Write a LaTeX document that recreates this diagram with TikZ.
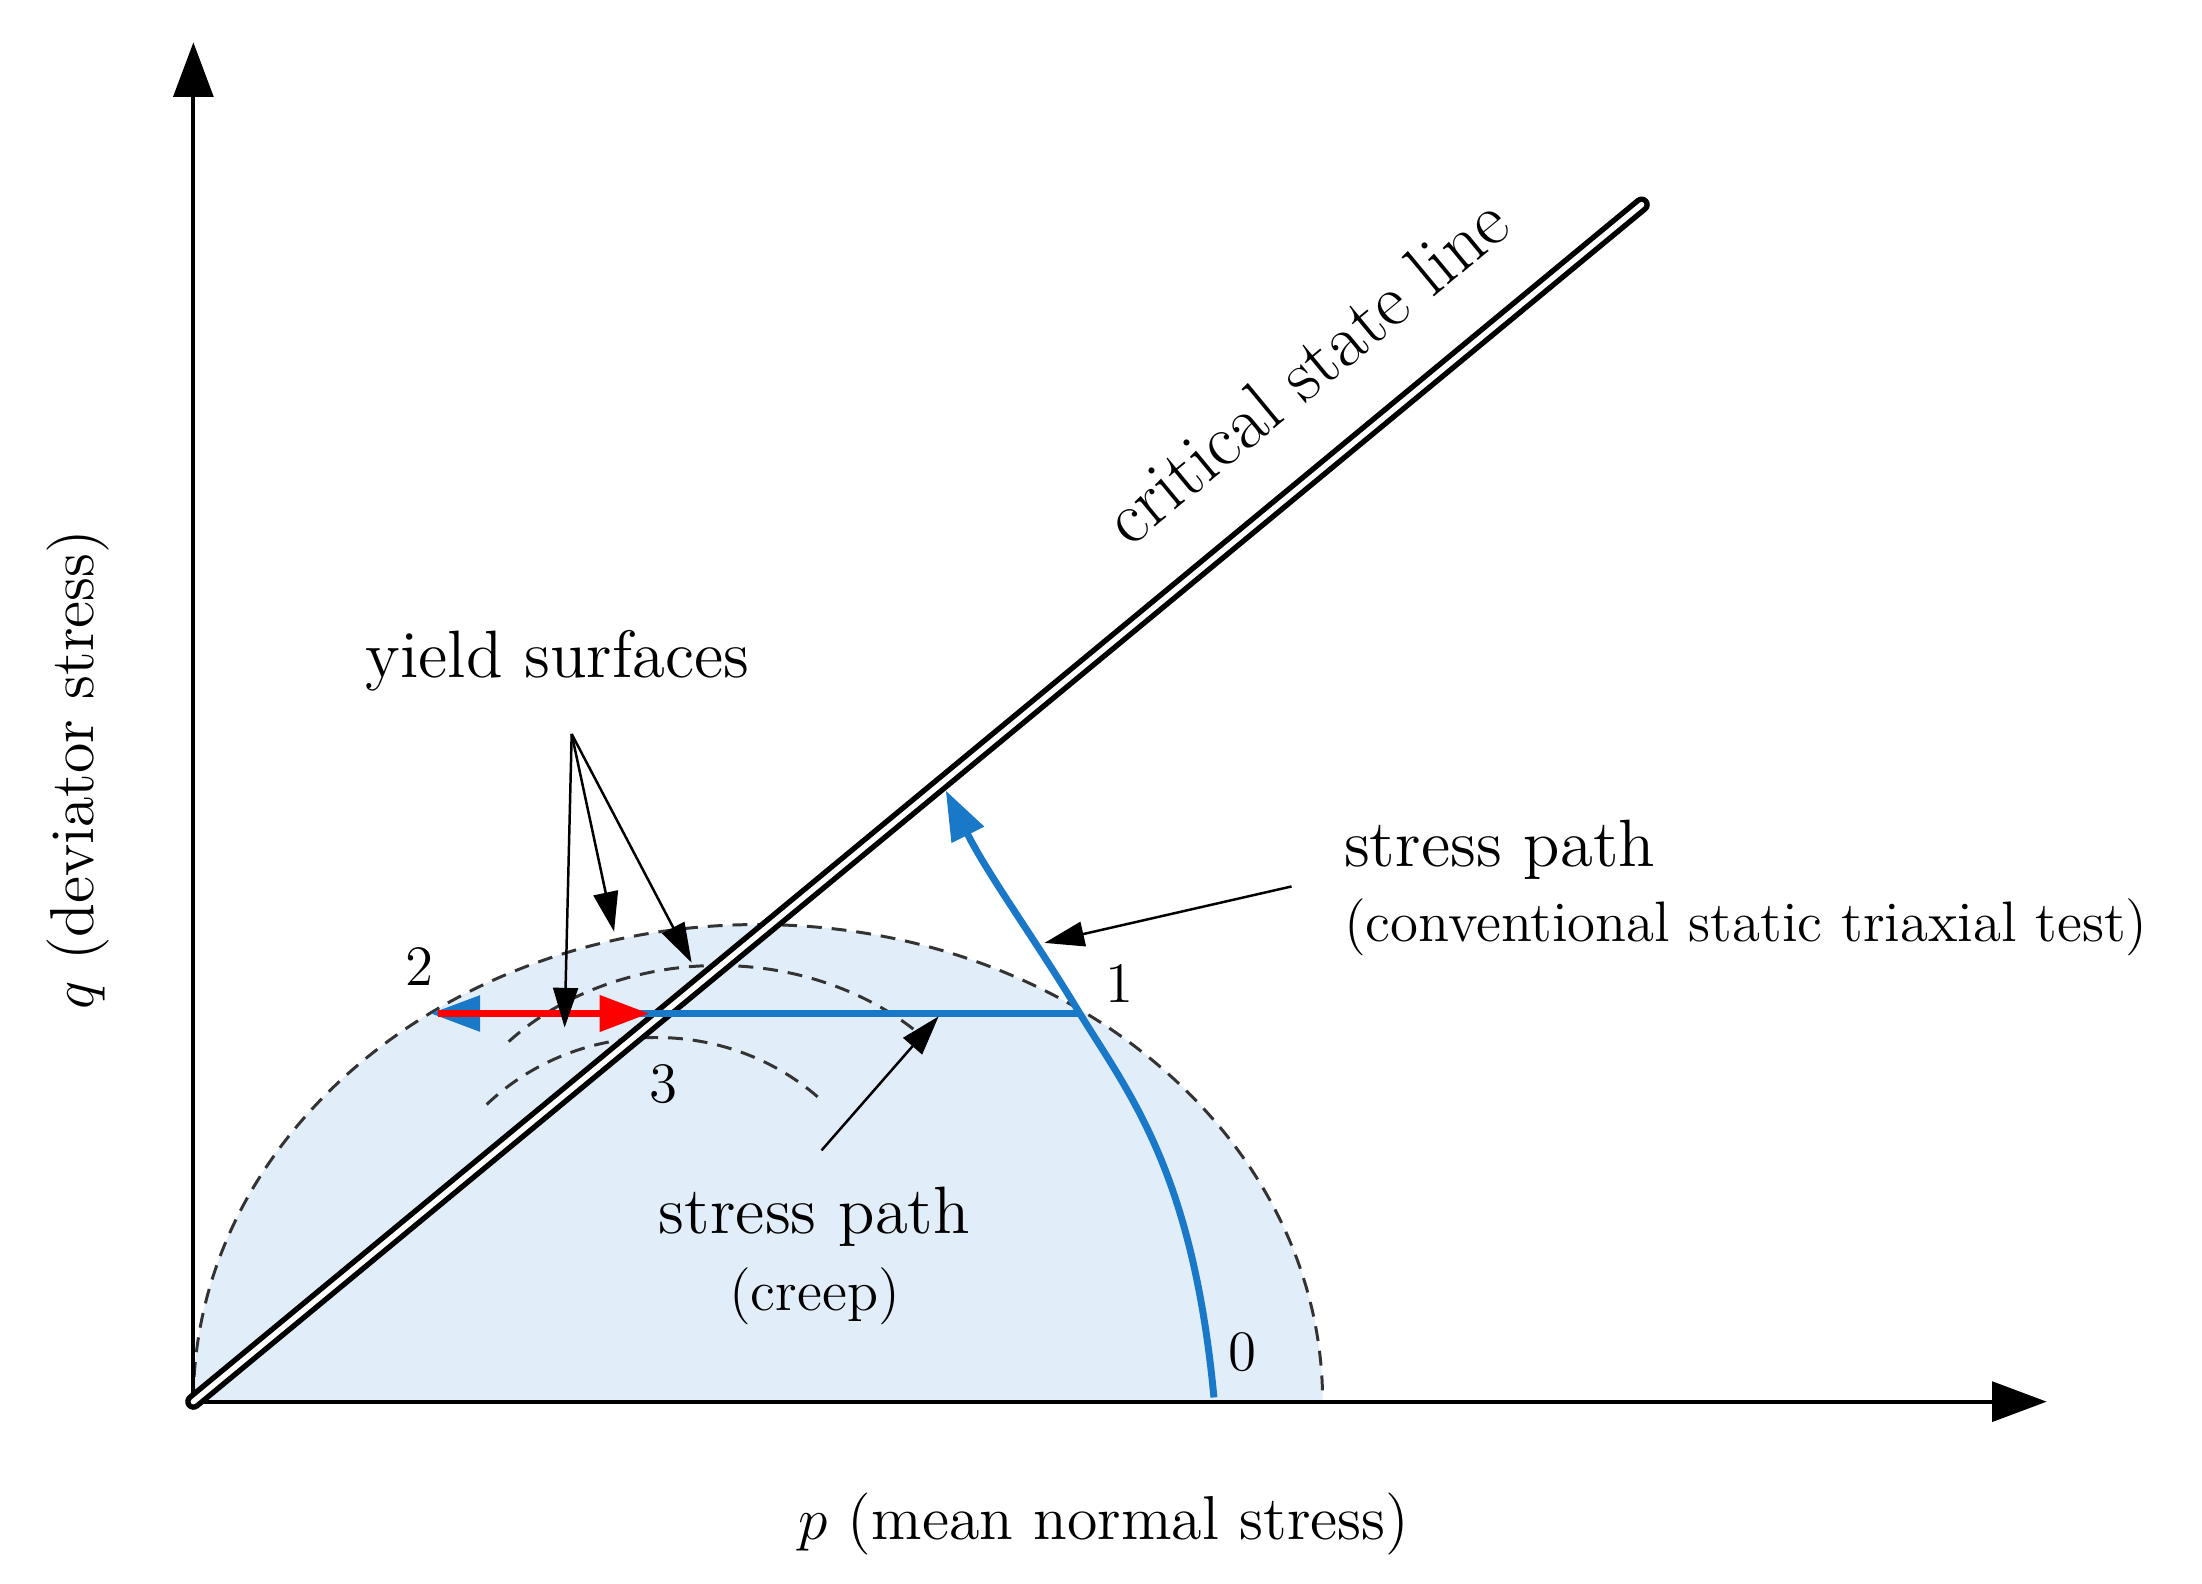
\documentclass[tikz,border=0pt]{standalone}
\usetikzlibrary{arrows.meta}
\definecolor{fillb}{HTML}{E1EDF8}
\definecolor{pathb}{HTML}{1A78C8}
\begin{document}
\begin{tikzpicture}[x=0.01cm,y=-0.01cm,
  lbl/.style={inner sep=1pt,font=\fontsize{13.5}{16}\selectfont},
  sml/.style={inner sep=1pt,font=\fontsize{11.5}{14}\selectfont},
  tri/.style={-{Triangle[length=10pt,width=7pt]}},
  thin arrow/.style={line width=0.5pt,-{Triangle[length=8pt,width=5pt]}},
  dsh/.style={dashed,dash pattern=on 3pt off 2pt,line width=0.6pt,black!80}]
\useasboundingbox (0,0) rectangle (1560,1121.5);
\coordinate (O) at (137,993);
\coordinate (Ytop) at (137,30);
\coordinate (Xend) at (1450,993);
\coordinate (Cend) at (1163,145);
% yield surface fill
\fill[fillb] (137,993) arc[start angle=-180,end angle=0,x radius=400,y radius=338] -- cycle;
\draw[dsh] (137,993) arc[start angle=-180,end angle=0,x radius=400,y radius=338];
\draw[dsh] (509,847) ++(-138:200 and 163) arc[start angle=-138,end angle=-44,x radius=200,y radius=163];
\draw[dsh] (465,897) ++(-135:170 and 162) arc[start angle=-135,end angle=-46,x radius=170,y radius=162];
% axes
\draw[line width=0.8pt,-{Triangle[length=11pt,width=8pt]}] (O) -- (Xend);
\draw[line width=0.8pt,-{Triangle[length=11pt,width=8pt]}] (O) -- (Ytop);
% CSL
\draw[line width=1.1pt,double=white,double distance=1.1pt,line cap=round] (O) -- (Cend);
\node[lbl,rotate=39.6,font=\fontsize{15}{18}\selectfont] (csl) at (925,262) {critical state line};
% stress paths
\coordinate (P0) at (860,990);
\coordinate (P1) at (765,718);
\coordinate (P1a) at (670,560);
\coordinate (P3) at (460,718);
\coordinate (P2) at (305,718);
\draw[pathb,line width=1.4pt] (P0) .. controls (845,830) and (800,775) .. (P1);
\draw[pathb,line width=1.4pt,tri] (P1) .. controls (735,668) and (700,620) .. (P1a);
\draw[pathb,line width=1.4pt] (P3) -- (P1);
\draw[pathb,line width=1.4pt,tri] (P3) -- (P2);
\draw[red,line width=1.6pt,tri] (310,718) -- (P3);
% labels
\node[sml] (n0) at (880,958) {0};
\node[sml] (n1) at (793,697) {1};
\node[sml] (n2) at (297,685) {2};
\node[sml] (n3) at (470,768) {3};
\node[lbl] (ys) at (395,468) {yield surfaces};
\coordinate (ysb) at (405,520);
\draw[thin arrow] (ysb) -- (400,728);
\draw[thin arrow] (ysb) -- (435,660);
\draw[thin arrow] (ysb) -- (490,682);
\node[lbl,anchor=west] (sp1) at (948,602) {stress path};
\node[sml,anchor=west] (sp1b) at (948,657) {(conventional static triaxial test)};
\coordinate (sp1t) at (915,628);
\draw[thin arrow] (sp1t) -- (740,668);
\node[lbl] (sp2) at (577,862) {stress path};
\node[sml] (sp2b) at (577,918) {(creep)};
\coordinate (sp2t) at (582,815);
\draw[thin arrow] (sp2t) -- (665,720);
\node[inner sep=1pt,font=\fontsize{12.5}{15}\selectfont] (xl) at (782,1080) {$p$ (mean normal stress)};
\node[inner sep=1pt,font=\fontsize{12.5}{15}\selectfont,rotate=90] (yl) at (55,545) {$q$ (deviator stress)};
\end{tikzpicture}
\end{document}
